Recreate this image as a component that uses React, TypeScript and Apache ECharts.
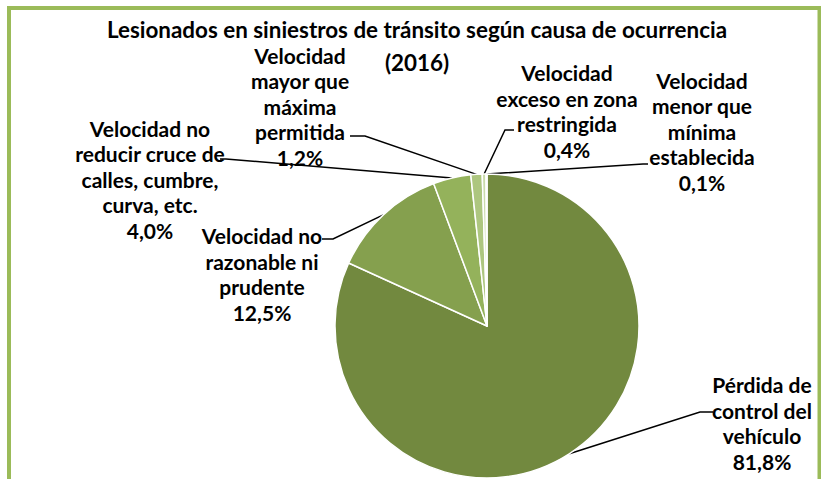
import React, { useEffect, useRef } from "react";
import * as echarts from "echarts";

const titleText = "Lesionados en siniestros de tránsito según causa de ocurrencia";
const subtitleText = "(2016)";
const categories = [
  "Pérdida de\ncontrol del\nvehículo",
  "Velocidad no\nrazonable ni\nprudente",
  "Velocidad no\nreducir cruce de\ncalles, cumbre,\ncurva, etc.",
  "Velocidad\nmayor que\nmáxima\npermitida",
  "Velocidad\nexceso en zona\nrestringida",
  "Velocidad\nmenor que\nmínima\nestablecida",
];
const values = [81.8, 12.5, 4.0, 1.2, 0.4, 0.1];
const colors = ["#72893F", "#85A04E", "#94B25B", "#ADC67F", "#CADBAA", "#DDE9C8"];

// label placement (layout only)
const labelLayouts = [
  { x: 762, y: 423, elbow: [700, 412], end: [713, 412] },
  { x: 262, y: 274, elbow: [333, 239], end: [322, 239] },
  { x: 150, y: 179, elbow: [226, 159], end: [220, 159] },
  { x: 300, y: 106, elbow: [365, 136], end: [350, 136] },
  { x: 567, y: 111, elbow: [505, 130], end: [514, 130] },
  { x: 702, y: 131, elbow: [643, 164], end: [648, 164] },
];

const FONT = "Lato, 'Liberation Sans', sans-serif";

export default function App() {
  const ref = useRef<HTMLDivElement>(null);
  useEffect(() => {
    if (!ref.current) return;
    const chart = echarts.init(ref.current, undefined, { renderer: "svg" });
    chart.setOption({
      animation: false,
      backgroundColor: "#ffffff",
      title: {
        text: titleText,
        subtext: subtitleText,
        left: 417,
        top: 19,
        padding: 0,
        itemGap: 11,
        textAlign: "center",
        textStyle: {
          fontFamily: FONT,
          fontWeight: "bold",
          fontSize: 22.4,
          lineHeight: 20,
          color: "#000",
        },
        subtextStyle: {
          fontFamily: FONT,
          fontWeight: "bold",
          fontSize: 22.4,
          lineHeight: 20,
          color: "#000",
        },
      },
      graphic: [
        {
          type: "rect",
          shape: { x: 9, y: 8, width: 810.5, height: 600 },
          style: { fill: "none", stroke: "#9BBB59", lineWidth: 4 },
          silent: true,
        },
      ],
      series: [
        {
          type: "pie",
          center: [487, 326],
          radius: 152,
          startAngle: 90,
          clockwise: true,
          avoidLabelOverlap: false,
          itemStyle: { borderColor: "#ffffff", borderWidth: 1.5 },
          label: {
            show: true,
            position: "outside",
            formatter: (p: any) =>
              `${p.name}\n${p.value.toFixed(1).replace(".", ",")}%`,
            color: "#000",
            fontFamily: FONT,
            fontWeight: "bold",
            fontSize: 21,
            lineHeight: 25.5,
            align: "center",
          },
          labelLine: {
            show: true,
            smooth: false,
            length: 10,
            length2: 10,
            lineStyle: { color: "#000", width: 1.5 },
          },
          labelLayout: (params: any) => {
            const l = labelLayouts[params.dataIndex];
            const anchor = params.labelLinePoints
              ? params.labelLinePoints[0]
              : l.elbow;
            return {
              x: l.x,
              y: l.y,
              align: "center",
              verticalAlign: "middle",
              labelLinePoints: [anchor, l.elbow, l.end],
            };
          },
          data: categories.map((n, i) => ({
            name: n,
            value: values[i],
            itemStyle: { color: colors[i] },
          })),
        },
      ],
    });
    return () => chart.dispose();
  }, []);
  return (
    <div
      ref={ref}
      style={{ position: "fixed", left: 0, top: 0, width: 821, height: 479 }}
    />
  );
}
